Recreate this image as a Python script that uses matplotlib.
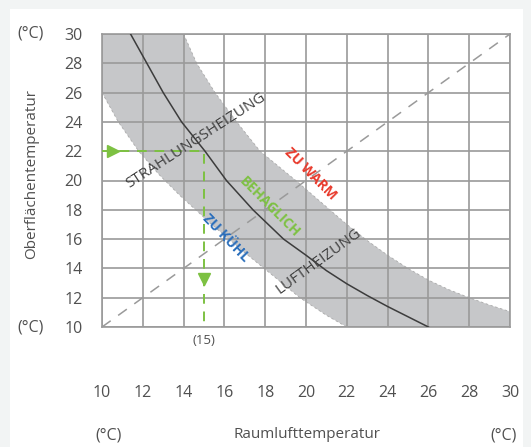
import matplotlib.pyplot as plt
from matplotlib.patches import Rectangle
import numpy as np

plt.rcParams['font.family'] = ['Open Sans', 'DejaVu Sans']

# Achsen
x_ticks = [10, 12, 14, 16, 18, 20, 22, 24, 26, 28, 30]
y_ticks = [10, 12, 14, 16, 18, 20, 22, 24, 26, 28, 30]

# Mittellinie (Behaglichkeitskurve)
mitte_x = [11.4, 12.2, 13.0, 13.9, 15.05, 16.1, 17.4, 18.9, 20.0, 21.0, 22.0, 23.0, 24.0, 25.0, 26.0]
mitte_y = [30.0, 28.0, 26.0, 24.0, 22.0, 20.0, 18.0, 16.0, 14.9, 13.85, 12.95, 12.15, 11.4, 10.7, 10.0]

# obere Grenze (zu warm)
oben_x = [14.0, 14.64, 15.54, 16.6, 17.75, 19.5, 21.0, 22.0, 23.0, 24.0, 25.0, 26.0, 27.0, 28.0, 29.0, 30.0]
oben_y = [30.0, 28.0, 26.0, 24.0, 22.0, 20.0, 18.2, 17.0, 15.9, 14.9, 14.0, 13.2, 12.55, 12.0, 11.5, 11.05]

# untere Grenze (zu kuehl)
unten_x = [10.0, 10.8, 11.8, 12.8, 13.8, 15.3, 16.8, 18.3, 19.7, 21.0, 22.0]
unten_y = [26.0, 24.0, 22.0, 20.4, 19.0, 17.1, 15.3, 13.6, 12.0, 10.8, 10.0]

# Beispiel: 22 Grad Oberflaeche -> 15 Grad Raumluft
bsp_x = [10, 15, 15]
bsp_y = [22, 22, 10]

grau = '#9a9a9a'
text_grau = '#505050'

fig = plt.figure(figsize=(5.31, 4.47), dpi=100)
fig.patch.set_facecolor('#f2f4f4')
fig.patches.append(Rectangle((10 / 531, 0), 513 / 531, 438 / 447,
                             transform=fig.transFigure, facecolor='white',
                             edgecolor='none', zorder=-10))

ax = fig.add_axes([102 / 531, 1 - 327 / 447, 408 / 531, 293 / 447])
ax.set_zorder(2)
ax.set_facecolor('white')
ax.set_xlim(10, 30)
ax.set_ylim(10, 30)

# Band
band_x = oben_x + [30] + unten_x[::-1] + [10]
band_y = oben_y + [10] + unten_y[::-1] + [30]
ax.fill(band_x, band_y, color='#c6c7c9', lw=0, zorder=1)
ax.plot(oben_x, oben_y, color='#aaaaaa', lw=0.6, ls=(0, (3, 3)), zorder=2)
ax.plot(unten_x, unten_y, color='#aaaaaa', lw=0.6, ls=(0, (3, 3)), zorder=2)

ax.grid(True, color=grau, lw=1.2, zorder=3)
ax.set_axisbelow(False)
for s in ax.spines.values():
    s.set_color(grau)
    s.set_linewidth(1.2)

# Diagonale
ax.plot([10, 30], [10, 30], color='#9a9a9a', lw=1.1, ls=(0, (7, 6)), zorder=4)

ax.plot(mitte_x, mitte_y, color='#3c3c3c', lw=1.1, zorder=5)

gruen = '#7dc142'
ax.plot(bsp_x, bsp_y, color=gruen, lw=1.4, ls=(0, (5, 4)), zorder=6)
ax.plot([10.55], [22], marker='>', color=gruen, ms=9, zorder=7, clip_on=False)
ax.plot([15], [13.3], marker='v', color=gruen, ms=9, zorder=7)

ax.set_xticks(x_ticks)
ax.set_yticks(y_ticks)
ax.tick_params(axis='x', length=0, pad=58 * 0.72, labelsize=11.5, labelcolor=text_grau)
ax.tick_params(axis='y', length=0, pad=14, labelsize=11.5, labelcolor=text_grau)

# Beschriftungen im Band
ax.text(14.6, 22.75, 'STRAHLUNGSHEIZUNG', rotation=33, ha='center', va='center',
        fontsize=11, color='#404040', zorder=8)
ax.text(20.6, 14.5, 'LUFTHEIZUNG', rotation=36, ha='center', va='center',
        fontsize=11, color='#404040', zorder=8)
ax.text(20.2, 20.45, 'ZU WARM', rotation=-45, ha='center', va='center',
        fontsize=10, fontweight='bold', color='#e8392b', zorder=8)
ax.text(18.2, 18.2, 'BEHAGLICH', rotation=-45, ha='center', va='center',
        fontsize=10, fontweight='bold', color=gruen, zorder=8)
ax.text(16.05, 16.05, 'ZU KÜHL', rotation=-46, ha='center', va='center',
        fontsize=10, fontweight='bold', color='#2a6ebb', zorder=8)

ax.annotate('(15)', xy=(15, 10), xytext=(0, -13), textcoords='offset pixels',
            ha='center', va='center', fontsize=9.5, color=text_grau)

# Einheiten und Achsentitel
fig.text(31 / 531, 1 - 34 / 447, '(°C)', ha='center', va='center', fontsize=11.5, color=text_grau)
fig.text(31 / 531, 1 - 327 / 447, '(°C)', ha='center', va='center', fontsize=11.5, color=text_grau)
fig.text(109 / 531, 1 - 435 / 447, '(°C)', ha='center', va='center', fontsize=11.5, color=text_grau)
fig.text(504 / 531, 1 - 435 / 447, '(°C)', ha='center', va='center', fontsize=11.5, color=text_grau)
fig.text(307 / 531, 1 - 435 / 447, 'Raumlufttemperatur', ha='center', va='center',
         fontsize=11, color=text_grau)
fig.text(32 / 531, 1 - 174 / 447, 'Oberflächentemperatur', ha='center', va='center',
         rotation=90, fontsize=11, color=text_grau)

fig.savefig('out.png', dpi=100, facecolor=fig.get_facecolor())
